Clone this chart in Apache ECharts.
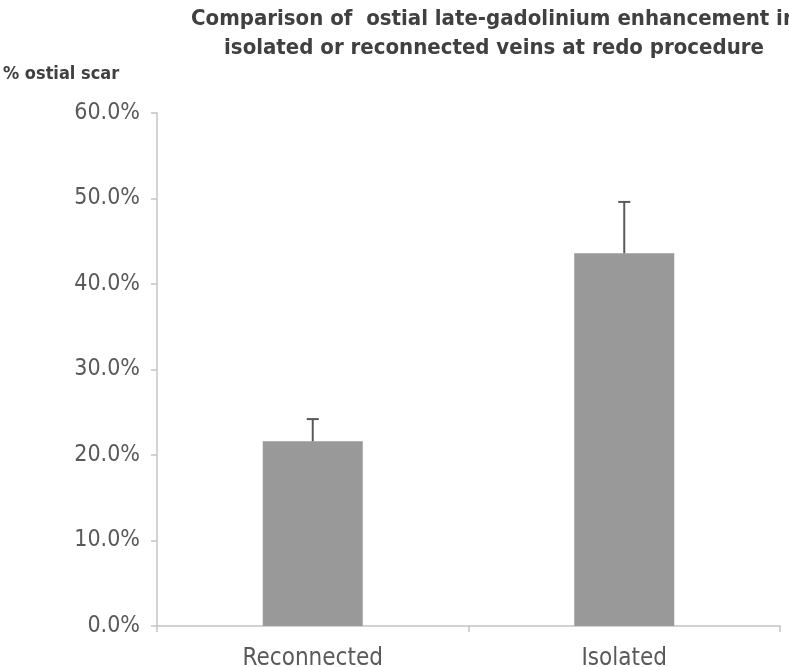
<!DOCTYPE html>
<html><head><meta charset="utf-8">
<script src="https://cdn.jsdelivr.net/npm/echarts@6/dist/echarts.min.js"></script>
<style>html,body{margin:0;padding:0;background:#fff}#c{width:789px;height:667px}</style>
</head><body><div id="c"></div>
<script>
const categories = ['Reconnected', 'Isolated'];
const values = [21.6, 43.6];
const errorUpper = [24.2, 49.6];
const yTicks = [0, 10, 20, 30, 40, 50, 60];

const FONT = '"Liberation Sans Narrow", "DejaVu Sans Condensed", sans-serif';
const chart = echarts.init(document.getElementById('c'));
chart.setOption({
  animation: false,
  backgroundColor: '#fff',
  title: {
    text: 'Comparison of  ostial late-gadolinium enhancement in\nisolated or reconnected veins at redo procedure',
    left: 489, top: 0, textAlign: 'center',
    textStyle: { fontFamily: FONT, fontWeight: 'bold', fontSize: 22, color: '#404040', lineHeight: 29 }
  },
  grid: { left: 157, right: 9, top: 113, bottom: 41, containLabel: false, outerBoundsMode: 'none' },
  xAxis: {
    type: 'category', data: categories,
    axisLine: { lineStyle: { color: '#c4c4c4', width: 1.5 } },
    axisTick: { show: true, length: 6, lineStyle: { color: '#c4c4c4', width: 1.5 } },
    axisLabel: { fontFamily: FONT, fontSize: 24, color: '#595959', margin: 21 }
  },
  yAxis: {
    type: 'value', min: yTicks[0], max: yTicks[yTicks.length - 1], interval: 10,
    name: '% ostial scar', nameLocation: 'end', nameGap: 30,
    nameTextStyle: { fontFamily: FONT, fontWeight: 'bold', fontSize: 18, color: '#404040', align: 'left', padding: [0, 0, 0, -154] },
    axisLine: { show: true, lineStyle: { color: '#c4c4c4', width: 1.5 } },
    axisTick: { show: true, length: 6, lineStyle: { color: '#c4c4c4', width: 1.5 } },
    splitLine: { show: false },
    axisLabel: { fontFamily: FONT, fontSize: 23, color: '#595959', margin: 17, formatter: v => v.toFixed(1) + '%' }
  },
  series: [
    { type: 'bar', data: values, barWidth: 100, itemStyle: { color: '#999999' }, z: 2 },
    {
      type: 'custom', z: 3,
      data: categories.map((c, i) => [i, values[i], errorUpper[i]]),
      renderItem: (params, api) => {
        const base = api.coord([api.value(0), api.value(1)]);
        const top = api.coord([api.value(0), api.value(2)]);
        const st = { stroke: '#595959', lineWidth: 2 };
        return { type: 'group', children: [
          { type: 'line', shape: { x1: base[0], y1: base[1], x2: top[0], y2: top[1] }, style: st },
          { type: 'line', shape: { x1: top[0] - 6, y1: top[1], x2: top[0] + 6, y2: top[1] }, style: st }
        ]};
      }
    }
  ]
});
</script></body></html>
